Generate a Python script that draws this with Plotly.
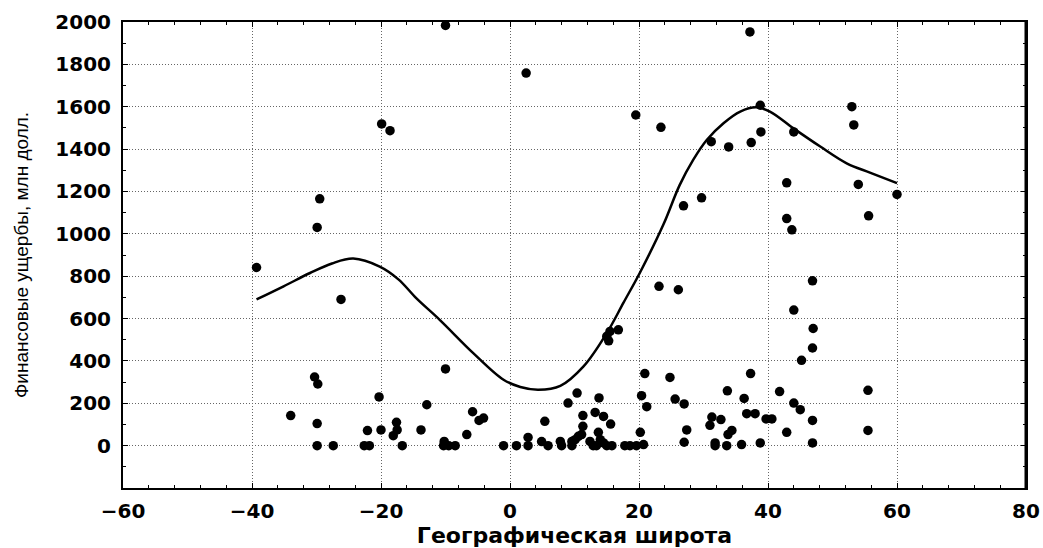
import plotly.graph_objects as go

# Scatter data: latitude vs. financial damage
lat = [-39.3, -29.5, -29.9, -26.2, -30.3, -29.8, -34.0, -29.9, -29.9, -27.4,
       -19.9, -18.6, -10.0, 2.5, 19.5, 23.4, 26.9, 29.7, 31.2, 33.9,
       37.4, 38.9, 44.0, 37.2, 38.8, 53.0, 53.3, 42.9, 54.0, 60.0,
       42.9, 43.7, 55.6, 46.9, 44.0, 47.0, 46.9, 45.2, 37.3, 33.7,
       41.8, 55.5, 36.3, 27.0, 44.0, 45.0, 36.7, 38.0, 31.3, 32.7,
       39.7, 40.6, 46.9, 31.0, 27.4, 34.4, 33.8, 42.9, 55.5, 27.0,
       31.8, 31.8, 33.6, 35.9, 38.8, 46.9, 23.1, 26.1, 24.8, 25.6,
       20.9, 20.4, 21.2, 20.2, 20.7, 17.8, 18.6, 19.6, 15.0, 15.5,
       16.8, 15.3, -10.0, -20.3, -12.9, -5.8, -4.8, -4.1, -17.6, -17.5,
       -18.1, -22.1, -20.0, -13.8, -6.7, -22.6, -21.8, -16.7, -10.2, -10.3,
       -9.5, -8.5, -1.0, 1.0, 2.8, 2.8, 4.9, 5.9, 5.4, 7.8,
       8.0, 9.0, 9.6, 10.1, 10.6, 9.6, 10.4, 11.3, 11.3, 11.1,
       12.4, 12.9, 13.2, 13.8, 14.5, 15.6, 13.7, 14.0, 14.5, 15.0,
       15.8, 13.4]
damage = [841, 1165, 1030, 690, 324, 291, 142, 104, 0, 0,
          1519, 1487, 1984, 1759, 1561, 1503, 1132, 1170, 1435, 1410,
          1431, 1481, 1481, 1953, 1607, 1600, 1514, 1241, 1233, 1186,
          1072, 1019, 1085, 778, 640, 553, 461, 403, 340, 259,
          255, 261, 223, 197, 201, 170, 151, 151, 135, 123,
          126, 126, 119, 96, 74, 72, 52, 63, 72, 16,
          13, 0, 0, 5, 13, 13, 752, 736, 322, 220,
          340, 236, 184, 63, 5, 0, 0, 0, 516, 539,
          547, 495, 362, 230, 193, 160, 119, 130, 110, 74,
          47, 71, 74, 74, 52, 0, 0, 0, 20, 0,
          0, 0, 0, 0, 0, 39, 19, 0, 115, 20,
          0, 201, 20, 28, 44, 0, 248, 142, 91, 52,
          20, 0, 157, 225, 138, 102, 63, 28, 13, 0,
          0, 0]

# Fitted curve
curve_x = [-39.3, -35.1, -31.0, -27.6, -24.3, -20.2, -17.3, -14.5, -10.9, -5.7,
           -1.0, 1.6, 4.4, 7.8, 11.4, 15.0, 17.6, 20.2, 23.8, 26.3,
           28.4, 30.5, 33.1, 35.7, 38.2, 40.3, 43.9, 48.1, 52.2, 55.8, 60.0]
curve_y = [690, 752, 815, 860, 883, 845, 785, 695, 594, 437,
           311, 277, 264, 282, 374, 531, 675, 820, 1045, 1230,
           1349, 1443, 1522, 1577, 1597, 1577, 1499, 1412, 1333, 1289, 1239]

x_ticks = [-60, -40, -20, 0, 20, 40, 60, 80]
y_ticks = [0, 200, 400, 600, 800, 1000, 1200, 1400, 1600, 1800, 2000]

fig = go.Figure()
fig.add_trace(go.Scatter(
    x=curve_x, y=curve_y, mode="lines",
    line=dict(color="black", width=2.5, shape="spline", smoothing=1.0),
    showlegend=False, hoverinfo="skip"))
fig.add_trace(go.Scatter(
    x=lat, y=damage, mode="markers",
    marker=dict(color="black", size=9.5, line=dict(width=0)),
    showlegend=False))

tick_font = dict(family="DejaVu Sans", size=20, color="black", weight="bold")

fig.update_xaxes(
    range=[-60, 80], tickmode="array", tickvals=x_ticks, automargin=False,
    ticks="inside", ticklen=5, tickwidth=1, tickcolor="black",
    minor=dict(tickmode="linear", tick0=0, dtick=4, ticks="inside",
               ticklen=3, tickcolor="black", showgrid=False),
    showgrid=True, gridcolor="#666666", griddash="1px,2px", gridwidth=1,
    showline=True, linecolor="black", linewidth=2, mirror="allticks",
    zeroline=False, tickfont=tick_font, ticklabelstandoff=4,
    title=dict(text="Географическая широта", standoff=6,
               font=dict(family="DejaVu Sans", size=22, color="black", weight="bold")))
fig.update_yaxes(
    range=[-200, 2000], tickmode="array", tickvals=y_ticks, automargin=False,
    ticks="inside", ticklen=5, tickwidth=1, tickcolor="black",
    minor=dict(tickmode="linear", tick0=0, dtick=100, ticks="inside",
               ticklen=3, tickcolor="black", showgrid=False),
    showgrid=True, gridcolor="#666666", griddash="1px,2px", gridwidth=1,
    showline=True, linecolor="black", linewidth=2, mirror="allticks",
    zeroline=False, tickfont=tick_font, ticklabelstandoff=6,
    title=dict(text="Финансовые ущербы, млн долл.", standoff=22,
               font=dict(family="Liberation Sans, Arial", size=19, color="black")))

fig.update_layout(
    width=1043, height=548,
    margin=dict(l=123, r=17, t=22, b=60),
    plot_bgcolor="white", paper_bgcolor="white",
    shapes=[dict(type="line", xref="paper", yref="paper", x0=1, x1=1, y0=0, y1=1,
                 line=dict(color="black", width=3))],
)

fig.write_html("out.html", config={"displayModeBar": False},
               post_script="document.body.style.margin='0';document.body.style.overflow='hidden';")
